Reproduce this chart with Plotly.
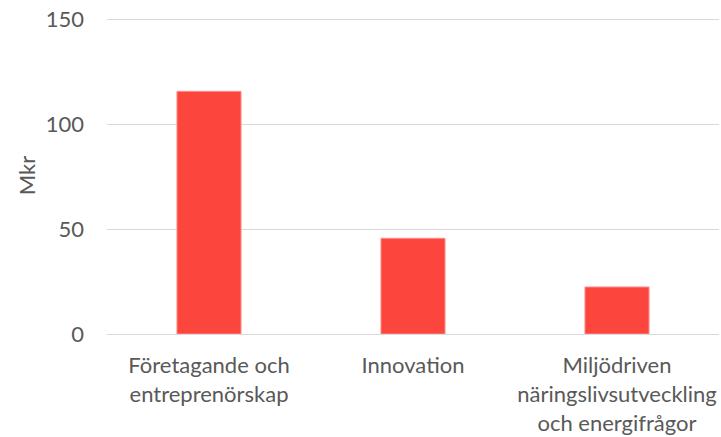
import plotly.graph_objects as go

categories = ["Företagande och<br>entreprenörskap", "Innovation", "Miljödriven<br>näringslivsutveckling<br>och energifrågor"]
values = [115.6, 45.6, 22.4]
y_ticks = [0, 50, 100, 150]

fig = go.Figure(go.Bar(
    x=categories, y=values,
    marker=dict(color="#FB453D", line=dict(color="#FF8F8A", width=1)),
    width=0.314,
))

font_family = "Lato"
fs = 22
fig.update_layout(
    width=721, height=437,
    margin=dict(l=107, r=2, t=17, b=103),
    plot_bgcolor="white", paper_bgcolor="white",
    font=dict(family=font_family, size=fs, color="#595959"),
    showlegend=False,
    xaxis=dict(showgrid=False, showline=True, linecolor="#D9D9D9", linewidth=1,
               ticks="", ticklabelstandoff=12, tickfont=dict(size=fs, color="#595959")),
    yaxis=dict(range=[0, 151], tickvals=y_ticks, showgrid=True, gridcolor="#D9D9D9",
               gridwidth=1, zeroline=False, showline=False, ticks="",
               ticklabelstandoff=22,
               tickfont=dict(size=fs, color="#595959"),
               title=dict(text="Mkr", font=dict(size=fs, color="#595959"), standoff=4)),
)
fig.write_html("out.html", config={"displayModeBar": False},
               post_script="document.body.style.margin='0';")
